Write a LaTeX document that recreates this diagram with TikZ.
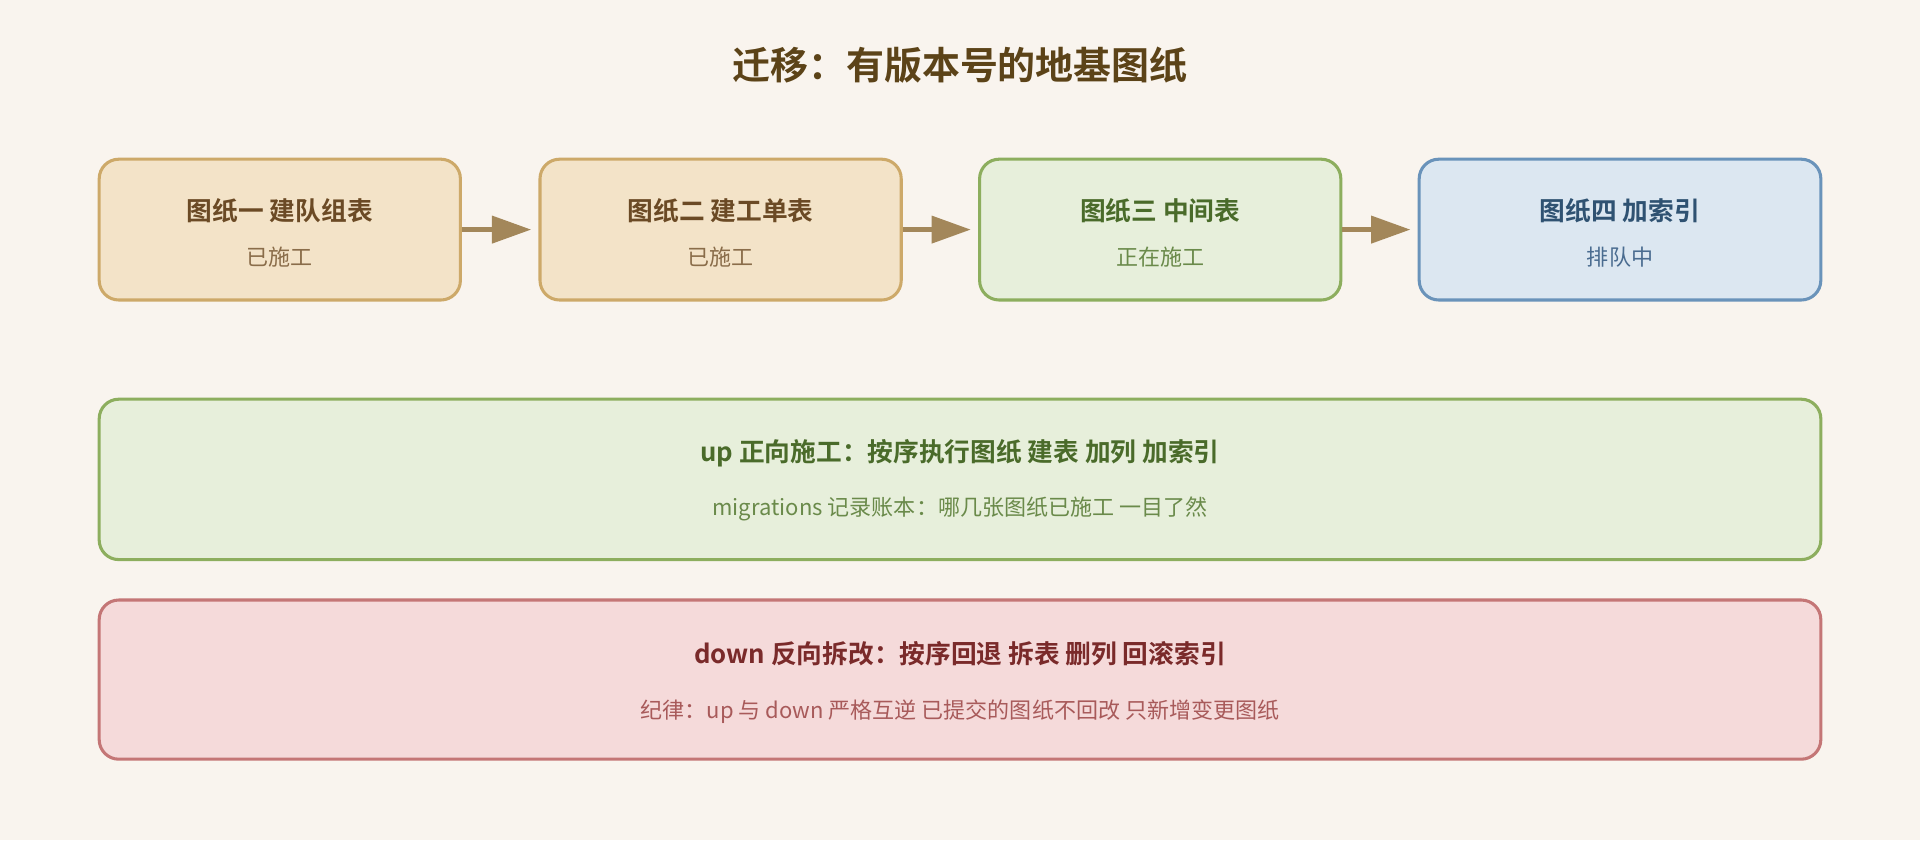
\documentclass[tikz,border=0pt]{standalone}
\usepackage{fontspec}
\setmainfont{Noto Sans CJK SC}[BoldFont={Noto Sans CJK SC Bold}]
\usetikzlibrary{arrows.meta}
\definecolor{bg}{HTML}{F9F4EE}
\definecolor{tanF}{HTML}{F3E3C8}\definecolor{tanD}{HTML}{CDA969}\definecolor{tanT}{HTML}{6B4A25}\definecolor{tanS}{HTML}{8A6D4A}
\definecolor{grF}{HTML}{E7EFDB}\definecolor{grD}{HTML}{8DAE5E}\definecolor{grT}{HTML}{4A6B2A}\definecolor{grS}{HTML}{6A8A4A}
\definecolor{blF}{HTML}{DCE7F1}\definecolor{blD}{HTML}{6A93BA}\definecolor{blT}{HTML}{2F5272}\definecolor{blS}{HTML}{4A6C90}
\definecolor{rdF}{HTML}{F5DADA}\definecolor{rdD}{HTML}{C47676}\definecolor{rdT}{HTML}{7A2A2A}\definecolor{rdS}{HTML}{A85A5A}
\definecolor{arr}{HTML}{A3875A}\definecolor{ttl}{HTML}{5C4318}
\begin{document}
\begin{tikzpicture}[x=1pt,y=-1pt,
 box/.style={draw,line width=2.5pt,rounded corners=16pt},
 hd/.style={font=\bfseries\fontsize{21}{24}\selectfont},
 sb/.style={font=\fontsize{18}{21}\selectfont},
 conn/.style={draw=arr,line width=3.5pt,-{Triangle[length=32pt,width=22pt]}}]
\fill[bg] (0,0) rectangle (1568,686);
\useasboundingbox (0,0) rectangle (1568,686);
\node[font=\bfseries\fontsize{31}{34}\selectfont,text=ttl] (title) at (784,53) {迁移：有版本号的地基图纸};
% row boxes
\node[box,draw=tanD,fill=tanF,minimum width=295pt,minimum height=115pt] (b1) at (228.5,187.5) {};
\node[box,draw=tanD,fill=tanF,minimum width=295pt,minimum height=115pt] (b2) at (588.5,187.5) {};
\node[box,draw=grD,fill=grF,minimum width=295pt,minimum height=115pt] (b3) at (947.5,187.5) {};
\node[box,draw=blD,fill=blF,minimum width=328pt,minimum height=115pt] (b4) at (1323,187.5) {};
\node[hd,text=tanT] (t1) at (228.5,172) {图纸一 建队组表};
\node[sb,text=tanS] (s1) at (228.5,210) {已施工};
\node[hd,text=tanT] (t2) at (588.5,172) {图纸二 建工单表};
\node[sb,text=tanS] (s2) at (588.5,210) {已施工};
\node[hd,text=grT] (t3) at (947.5,172) {图纸三 中间表};
\node[sb,text=grS] (s3) at (947.5,210) {正在施工};
\node[hd,text=blT] (t4) at (1323,172) {图纸四 加索引};
\node[sb,text=blS] (s4) at (1323,210) {排队中};
\draw[conn] (b1.east) -- ([xshift=-6pt]b2.west);
\draw[conn] (b2.east) -- ([xshift=-6pt]b3.west);
\draw[conn] (b3.east) -- ([xshift=-6pt]b4.west);
% wide boxes
\node[box,draw=grD,fill=grF,minimum width=1406pt,minimum height=131pt] (b5) at (784,391.5) {};
\node[hd,text=grT] (t5) at (784,370) {up 正向施工：按序执行图纸 建表 加列 加索引};
\node[sb,text=grS] (s5) at (784,416) {migrations 记录账本：哪几张图纸已施工 一目了然};
\node[box,draw=rdD,fill=rdF,minimum width=1406pt,minimum height=130pt] (b6) at (784,555) {};
\node[hd,text=rdT] (t6) at (784,534) {down 反向拆改：按序回退 拆表 删列 回滚索引};
\node[sb,text=rdS] (s6) at (784,581) {纪律：up 与 down 严格互逆 已提交的图纸不回改 只新增变更图纸};
\end{tikzpicture}
\end{document}
